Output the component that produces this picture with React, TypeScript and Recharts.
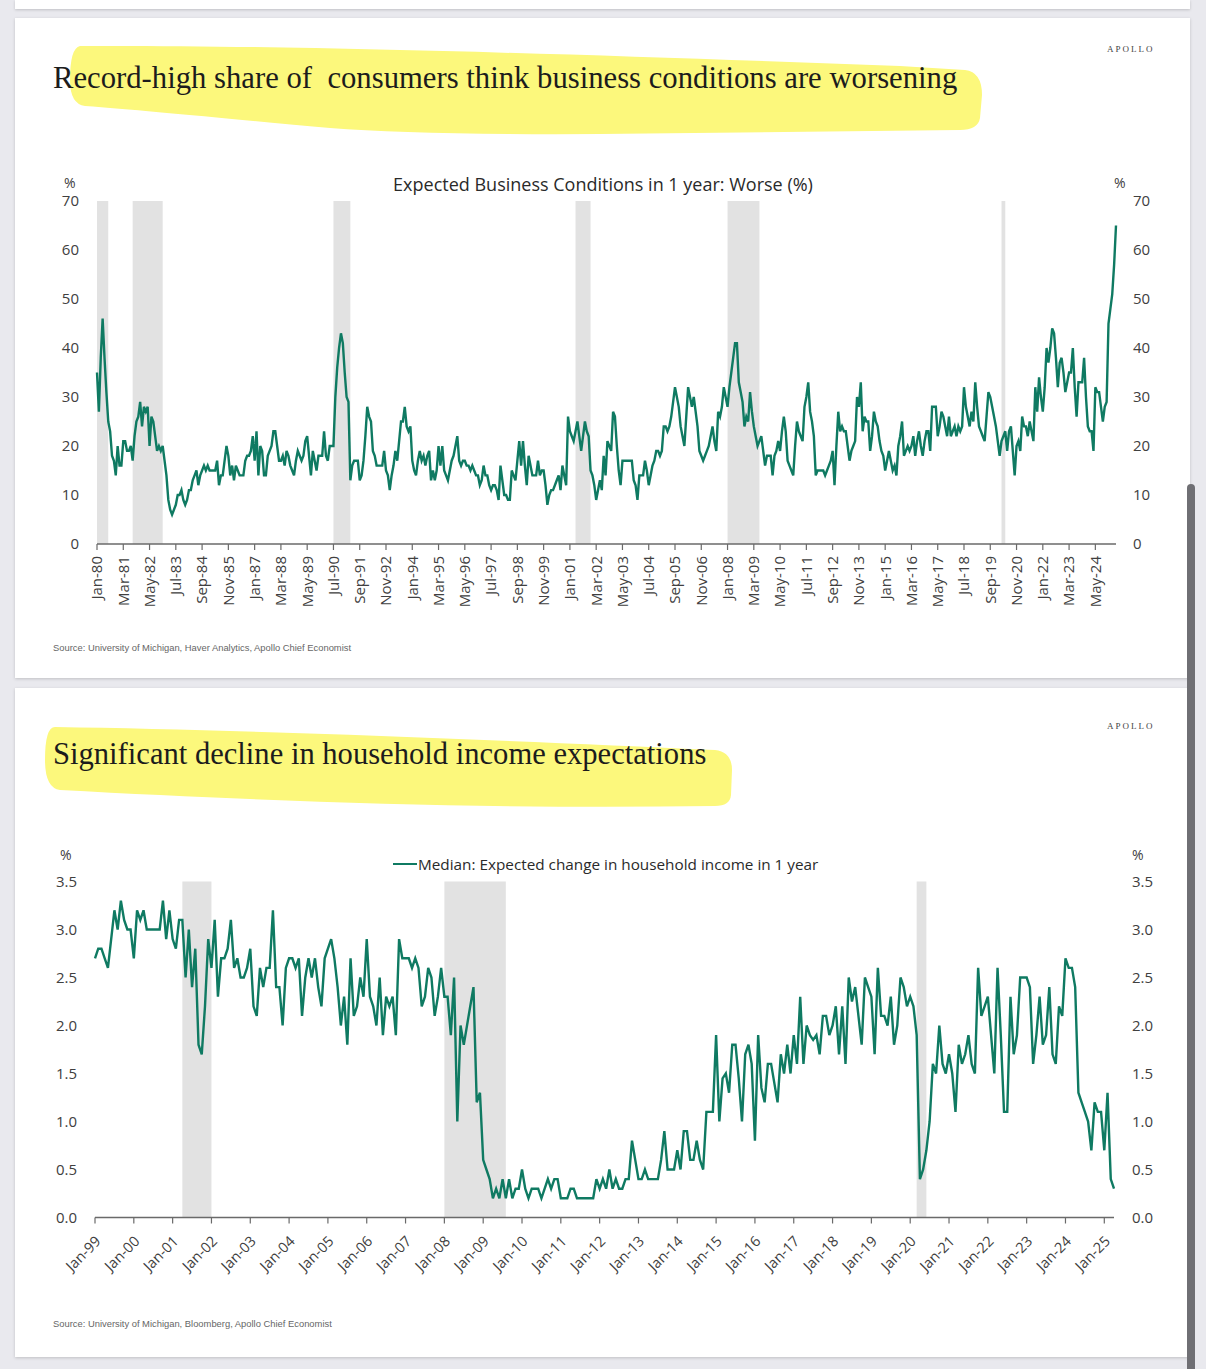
import React from 'react';
import { LineChart, Line, XAxis, YAxis, ReferenceArea } from 'recharts';

const MONTHS = ['Jan', 'Feb', 'Mar', 'Apr', 'May', 'Jun', 'Jul', 'Aug', 'Sep', 'Oct', 'Nov', 'Dec'];

// Expected Business Conditions in 1 year: Worse (%), monthly from Jan-80
const TOP_START_YEAR = 1980;
const TOP_VALUES = [
  35, 27, 38, 46, 38, 31, 25, 23, 18, 17, 14, 20,
  16, 16, 21, 21, 19, 19, 20, 17, 22, 25, 26, 29,
  24, 28, 27, 28, 20, 26, 25, 22, 19, 20, 19, 20,
  17, 14, 9, 7, 6, 7, 8, 10, 10, 11, 9, 8,
  9, 11, 11, 13, 14, 15, 12, 14, 15, 16, 15, 16,
  15, 15, 15, 15, 17, 12, 14, 14, 17, 20, 18, 14,
  16, 13, 16, 15, 14, 14, 14, 17, 18, 18, 19, 22,
  17, 23, 14, 20, 19, 14, 14, 18, 19, 20, 23, 23,
  20, 17, 17, 18, 16, 19, 18, 16, 15, 14, 17, 19,
  18, 17, 18, 21, 22, 18, 14, 19, 17, 15, 18, 18,
  18, 23, 18, 17, 20, 20, 20, 30, 36, 40, 43, 41,
  35, 30, 29, 13, 16, 17, 17, 17, 13, 14, 17, 22,
  28, 26, 25, 19, 18, 16, 16, 16, 16, 19, 15, 14,
  11, 14, 16, 19, 17, 21, 25, 25, 28, 24, 23, 24,
  17, 15, 14, 17, 19, 17, 18, 16, 18, 19, 13, 15,
  13, 15, 20, 16, 20, 15, 14, 13, 15, 17, 18, 20,
  22, 17, 16, 17, 17, 16, 16, 15, 16, 15, 14, 14,
  12, 13, 16, 14, 14, 12, 11, 12, 12, 11, 9, 16,
  13, 10, 10, 9, 9, 15, 14, 13, 17, 21, 16, 21,
  16, 12, 18, 16, 14, 14, 14, 17, 14, 15, 15, 12,
  8, 10, 11, 11, 12, 13, 14, 11, 16, 14, 12, 26,
  23, 22, 21, 23, 25, 22, 19, 22, 25, 23, 22, 15,
  14, 12, 9, 11, 13, 11, 18, 14, 21, 20, 19, 27,
  26, 20, 15, 12, 17, 17, 17, 17, 17, 17, 13, 12,
  9, 14, 14, 14, 17, 15, 12, 14, 16, 17, 19, 19,
  18, 19, 24, 24, 23, 24, 26, 29, 32, 30, 28, 24,
  22, 20, 26, 32, 30, 28, 30, 27, 24, 19, 18, 17,
  18, 19, 20, 22, 24, 21, 19, 27, 26, 28, 32, 30,
  28, 32, 35, 38, 41, 41, 33, 31, 29, 24, 26, 25,
  31, 27, 24, 22, 20, 21, 22, 19, 16, 18, 18, 18,
  14, 18, 19, 21, 19, 23, 26, 23, 17, 16, 15, 14,
  20, 25, 23, 22, 21, 28, 30, 33, 27, 25, 22, 14,
  15, 15, 15, 15, 14, 15, 16, 17, 19, 12, 20, 27,
  23, 24, 23, 23, 20, 17, 19, 20, 21, 30, 28, 33,
  23, 26, 25, 25, 19, 22, 27, 25, 24, 21, 19, 18,
  15, 17, 19, 17, 15, 16, 14, 20, 22, 25, 18, 19,
  20, 19, 20, 22, 18, 21, 23, 20, 18, 21, 23, 23,
  19, 28, 28, 28, 22, 24, 27, 26, 24, 22, 26, 22,
  23, 24, 22, 24, 23, 24, 32, 28, 26, 24, 27, 25,
  33, 28, 24, 23, 22, 21, 26, 31, 30, 28, 26, 24,
  21, 18, 21, 22, 23, 19, 23, 24, 19, 14, 20, 21,
  19, 26, 24, 24, 22, 25, 23, 21, 32, 27, 34, 30,
  27, 32, 40, 37, 40, 44, 43, 38, 32, 37, 38, 35,
  31, 33, 35, 35, 40, 32, 26, 33, 33, 33, 38, 30,
  24, 23, 23, 19, 32, 31, 31, 28, 25, 28, 29, 45,
  48, 51, 57, 65,
];
const TOP_TICKS = [
  'Jan-80', 'Mar-81', 'May-82', 'Jul-83', 'Sep-84', 'Nov-85', 'Jan-87', 'Mar-88', 'May-89', 'Jul-90',
  'Sep-91', 'Nov-92', 'Jan-94', 'Mar-95', 'May-96', 'Jul-97', 'Sep-98', 'Nov-99', 'Jan-01', 'Mar-02',
  'May-03', 'Jul-04', 'Sep-05', 'Nov-06', 'Jan-08', 'Mar-09', 'May-10', 'Jul-11', 'Sep-12', 'Nov-13',
  'Jan-15', 'Mar-16', 'May-17', 'Jul-18', 'Sep-19', 'Nov-20', 'Jan-22', 'Mar-23', 'May-24',
];
const TOP_Y_TICKS = [0, 10, 20, 30, 40, 50, 60, 70];
const TOP_BANDS = [
  ['Jan-80', 'Jul-80'], ['Aug-81', 'Dec-82'], ['Jul-90', 'Apr-91'],
  ['Apr-01', 'Dec-01'], ['Jan-08', 'Jun-09'], ['Mar-20', 'May-20'],
];

// Median: Expected change in household income in 1 year, monthly from Jan-99
const BOTTOM_START_YEAR = 1999;
const BOTTOM_VALUES = [
  2.7, 2.8, 2.8, 2.7, 2.6, 2.9, 3.2, 3.0, 3.3, 3.1, 3.0, 3.0,
  2.7, 3.2, 3.1, 3.2, 3.0, 3.0, 3.0, 3.0, 3.0, 3.3, 2.9, 3.2,
  2.9, 2.8, 3.1, 3.1, 2.5, 3.0, 2.4, 2.8, 1.8, 1.7, 2.2, 2.9,
  2.6, 3.1, 2.3, 2.7, 2.7, 2.8, 3.1, 2.6, 2.7, 2.5, 2.5, 2.6,
  2.8, 2.2, 2.1, 2.6, 2.4, 2.6, 2.6, 3.2, 2.4, 2.4, 2.0, 2.6,
  2.7, 2.7, 2.6, 2.7, 2.1, 2.5, 2.7, 2.5, 2.7, 2.4, 2.2, 2.7,
  2.8, 2.9, 2.7, 2.4, 2.0, 2.3, 1.8, 2.7, 2.1, 2.2, 2.5, 2.3,
  2.9, 2.3, 2.2, 2.0, 2.5, 1.9, 2.3, 2.2, 2.3, 1.9, 2.9, 2.7,
  2.7, 2.7, 2.6, 2.7, 2.6, 2.2, 2.3, 2.6, 2.5, 2.1, 2.3, 2.6,
  2.3, 2.3, 1.9, 2.5, 1.0, 2.0, 1.8, 2.0, 2.2, 2.4, 1.2, 1.3,
  0.6, 0.5, 0.4, 0.2, 0.3, 0.2, 0.4, 0.2, 0.4, 0.2, 0.3, 0.3,
  0.5, 0.3, 0.2, 0.3, 0.3, 0.3, 0.2, 0.3, 0.4, 0.3, 0.4, 0.4,
  0.2, 0.2, 0.2, 0.3, 0.3, 0.2, 0.2, 0.2, 0.2, 0.2, 0.2, 0.4,
  0.3, 0.4, 0.3, 0.5, 0.3, 0.4, 0.3, 0.3, 0.4, 0.4, 0.8, 0.6,
  0.4, 0.4, 0.5, 0.4, 0.4, 0.4, 0.4, 0.6, 0.9, 0.5, 0.5, 0.5,
  0.7, 0.5, 0.9, 0.9, 0.6, 0.6, 0.8, 0.6, 0.5, 1.1, 1.1, 1.1,
  1.9, 1.0, 1.45, 1.5, 1.3, 1.8, 1.8, 1.45, 1.0, 1.7, 1.8, 1.6,
  0.8, 1.9, 1.35, 1.2, 1.6, 1.6, 1.4, 1.2, 1.7, 1.5, 1.8, 1.5,
  1.9, 1.6, 2.3, 1.6, 2.0, 1.9, 1.85, 1.9, 1.7, 2.1, 2.1, 1.9,
  2.0, 2.2, 1.7, 2.2, 1.6, 2.5, 2.25, 2.4, 2.1, 1.8, 2.5, 2.4,
  2.3, 1.7, 2.6, 2.1, 2.1, 2.0, 2.3, 1.8, 2.0, 2.5, 2.4, 2.2,
  2.3, 2.2, 1.9, 0.4, 0.5, 0.7, 1.0, 1.6, 1.5, 2.0, 1.6, 1.5,
  1.7, 1.5, 1.1, 1.8, 1.6, 1.7, 1.9, 1.6, 1.5, 2.6, 2.1, 2.2,
  2.3, 1.9, 1.5, 2.6, 1.9, 1.1, 1.1, 2.3, 1.7, 1.9, 2.5, 2.5,
  2.5, 2.4, 1.6, 1.9, 2.3, 1.8, 1.9, 2.4, 1.7, 1.6, 2.2, 2.1,
  2.7, 2.6, 2.6, 2.4, 1.3, 1.2, 1.1, 1.0, 0.7, 1.2, 1.1, 1.1,
  0.7, 1.3, 0.4, 0.3,
];
const BOTTOM_TICKS = [
  'Jan-99', 'Jan-00', 'Jan-01', 'Jan-02', 'Jan-03', 'Jan-04', 'Jan-05', 'Jan-06', 'Jan-07',
  'Jan-08', 'Jan-09', 'Jan-10', 'Jan-11', 'Jan-12', 'Jan-13', 'Jan-14', 'Jan-15', 'Jan-16',
  'Jan-17', 'Jan-18', 'Jan-19', 'Jan-20', 'Jan-21', 'Jan-22', 'Jan-23', 'Jan-24', 'Jan-25',
];
const BOTTOM_Y_TICKS = [0, 0.5, 1.0, 1.5, 2.0, 2.5, 3.0, 3.5];
const BOTTOM_BANDS = [['Apr-01', 'Jan-02'], ['Jan-08', 'Aug-09'], ['Mar-20', 'Jun-20']];

const monthLabel = (startYear: number, i: number) =>
  `${MONTHS[i % 12]}-${String((startYear + Math.floor(i / 12)) % 100).padStart(2, '0')}`;

const topData = TOP_VALUES.map((v, i) => ({ d: monthLabel(TOP_START_YEAR, i), v }));
const bottomData = BOTTOM_VALUES.map((v, i) => ({ d: monthLabel(BOTTOM_START_YEAR, i), v }));

const LINE = '#0f7a62';
const AXIS = '#6a6a6a';
const TXT = '#404040';
const SANS = "'Open Sans', 'Noto Sans', sans-serif";
const SERIF = "'Liberation Serif', 'DejaVu Serif', serif";
const BAND = '#e2e2e2';

const TopTick = (props: any) => {
  const { x, y, payload } = props;
  return (
    <g transform={`translate(${x},${y + 4})`}>
      <text transform="rotate(-90)" textAnchor="end" dy="0.36em" fontSize={15} fill={TXT} fontFamily={SANS}>
        {payload.value}
      </text>
    </g>
  );
};

const BottomTick = (props: any) => {
  const { x, y, payload } = props;
  return (
    <g transform={`translate(${x + 3},${y + 13})`}>
      <text transform="rotate(-45)" textAnchor="end" dy="0.36em" fontSize={14.5} fill={TXT} fontFamily={SANS}>
        {payload.value}
      </text>
    </g>
  );
};

const abs = (left: number, top: number, extra: any = {}) => ({ position: 'absolute', left, top, ...extra } as any);

export default function App() {
  return (
    <div style={abs(0, 0, { width: 1206, height: 1369, background: '#e9e9ee', overflow: 'hidden' })}>
      {/* cards */}
      <div style={abs(15, 0, { width: 1175, height: 9, background: '#fff', boxShadow: '0 1px 3px rgba(0,0,0,0.18)' })} />
      <div style={abs(15, 18, { width: 1175, height: 660, background: '#fff', boxShadow: '0 1px 3px rgba(0,0,0,0.18)' })} />
      <div style={abs(15, 688, { width: 1175, height: 669, background: '#fff', boxShadow: '0 1px 3px rgba(0,0,0,0.18)' })} />
      <div style={abs(1187, 484, { width: 8, height: 900, background: '#6f6f74', borderRadius: 4 })} />

      {/* highlighter strokes */}
      <svg style={abs(0, 0)} width={1206} height={1369}>
        <path
          d="M 80 46 C 300 45, 600 55, 900 66 L 965 70 Q 982 72 982 95 L 980 118 Q 978 130 960 130 L 600 134 Q 420 135 330 128 C 220 118, 140 110, 85 106 Q 70 104 70 80 Q 70 48 80 46 Z"
          fill="#fcf87c"
        />
        <path
          d="M 55 727 C 250 730, 500 740, 715 750 Q 732 752 732 770 L 731 795 Q 730 806 715 806 C 500 809, 300 803, 60 790 Q 45 788 45 760 Q 45 727 55 727 Z"
          fill="#fcf87c"
        />
      </svg>

      {/* top card texts */}
      <div style={abs(1107, 44, { fontFamily: SERIF, fontSize: 9, letterSpacing: 2, color: '#444' })}>APOLLO</div>
      <div style={abs(53, 60, { fontFamily: SERIF, fontSize: 30.7, color: '#1c1c1c', whiteSpace: 'nowrap', lineHeight: '36px' })}>
        Record-high share of&nbsp; consumers think business conditions are worsening
      </div>
      <div style={abs(0, 172, { width: 1206, textAlign: 'center', fontFamily: SANS, fontSize: 18, color: '#2a2a2a' })}>
        Expected Business Conditions in 1 year: Worse (%)
      </div>
      <div style={abs(64, 173, { fontFamily: SANS, fontSize: 14, color: TXT })}>%</div>
      <div style={abs(1114, 173, { fontFamily: SANS, fontSize: 14, color: TXT })}>%</div>
      <div style={abs(53, 642, { fontFamily: "'Liberation Sans', sans-serif", fontSize: 9.4, color: '#666', whiteSpace: 'nowrap' })}>
        Source: University of Michigan, Haver Analytics, Apollo Chief Economist
      </div>

      <div style={abs(40, 170)}>
        <LineChart width={1130} height={460} data={topData} margin={{ top: 31, right: 14, bottom: 16, left: 17 }}>
          <XAxis
            dataKey="d"
            ticks={TOP_TICKS}
            interval={0}
            tick={(p: any) => <TopTick {...p} />}
            tickSize={6}
            tickMargin={2}
            axisLine={{ stroke: AXIS, strokeWidth: 1.3 }}
            tickLine={{ stroke: AXIS, strokeWidth: 1.2 }}
            height={70}
          />
          <YAxis
            yAxisId="l"
            domain={[0, 70]}
            ticks={TOP_Y_TICKS}
            axisLine={false}
            tickLine={false}
            tickSize={0}
            tickMargin={18}
            width={40}
            tick={{ fontSize: 15, fill: TXT, fontFamily: SANS }}
          />
          <YAxis
            yAxisId="r"
            orientation="right"
            domain={[0, 70]}
            ticks={TOP_Y_TICKS}
            axisLine={false}
            tickLine={false}
            tickSize={0}
            tickMargin={17}
            width={40}
            tick={{ fontSize: 15, fill: TXT, fontFamily: SANS, textAnchor: 'start' }}
          />
          {TOP_BANDS.map(([a, b]) => (
            <ReferenceArea key={a} yAxisId="l" x1={a} x2={b} fill={BAND} fillOpacity={1} stroke="none" />
          ))}
          <Line yAxisId="r" type="linear" dataKey="v" stroke="transparent" strokeWidth={0} dot={false} activeDot={false} isAnimationActive={false} />
          <Line yAxisId="l" type="linear" dataKey="v" stroke={LINE} strokeWidth={2.4} dot={false} isAnimationActive={false} />
        </LineChart>
      </div>

      {/* bottom card texts */}
      <div style={abs(1107, 721, { fontFamily: SERIF, fontSize: 9, letterSpacing: 2, color: '#444' })}>APOLLO</div>
      <div style={abs(53, 736, { fontFamily: SERIF, fontSize: 30.6, color: '#1c1c1c', whiteSpace: 'nowrap', lineHeight: '36px' })}>
        Significant decline in household income expectations
      </div>
      <div style={abs(60, 845, { fontFamily: SANS, fontSize: 14, color: TXT })}>%</div>
      <div style={abs(1132, 845, { fontFamily: SANS, fontSize: 14, color: TXT })}>%</div>
      <div style={abs(393, 854, { display: 'flex', alignItems: 'center', fontFamily: SANS, fontSize: 15.3, color: '#2a2a2a', whiteSpace: 'nowrap' })}>
        <span style={{ display: 'inline-block', width: 24, height: 2.6, background: LINE, marginRight: 1 }} />
        Median: Expected change in household income in 1 year
      </div>
      <div style={abs(53, 1318, { fontFamily: "'Liberation Sans', sans-serif", fontSize: 9.4, color: '#666', whiteSpace: 'nowrap' })}>
        Source: University of Michigan, Bloomberg, Apollo Chief Economist
      </div>

      <div style={abs(40, 840)}>
        <LineChart width={1130} height={440} data={bottomData} margin={{ top: 41.5, right: 16, bottom: 2.5, left: 15 }}>
          <XAxis
            dataKey="d"
            ticks={BOTTOM_TICKS}
            interval={0}
            tick={(p: any) => <BottomTick {...p} />}
            tickSize={6}
            tickMargin={2}
            axisLine={{ stroke: AXIS, strokeWidth: 1.3 }}
            tickLine={{ stroke: AXIS, strokeWidth: 1.2 }}
            height={60}
          />
          <YAxis
            yAxisId="l"
            domain={[0, 3.5]}
            ticks={BOTTOM_Y_TICKS}
            axisLine={false}
            tickLine={false}
            tickSize={0}
            tickMargin={18}
            width={40}
            tickFormatter={(v: number) => v.toFixed(1)}
            tick={{ fontSize: 15, fill: TXT, fontFamily: SANS }}
          />
          <YAxis
            yAxisId="r"
            orientation="right"
            domain={[0, 3.5]}
            ticks={BOTTOM_Y_TICKS}
            axisLine={false}
            tickLine={false}
            tickSize={0}
            tickMargin={18}
            width={40}
            tickFormatter={(v: number) => v.toFixed(1)}
            tick={{ fontSize: 15, fill: TXT, fontFamily: SANS, textAnchor: 'start' }}
          />
          {BOTTOM_BANDS.map(([a, b]) => (
            <ReferenceArea key={a} yAxisId="l" x1={a} x2={b} fill={BAND} fillOpacity={1} stroke="none" />
          ))}
          <Line yAxisId="r" type="linear" dataKey="v" stroke="transparent" strokeWidth={0} dot={false} activeDot={false} isAnimationActive={false} />
          <Line yAxisId="l" type="linear" dataKey="v" stroke={LINE} strokeWidth={2.4} dot={false} isAnimationActive={false} />
        </LineChart>
      </div>
    </div>
  );
}
